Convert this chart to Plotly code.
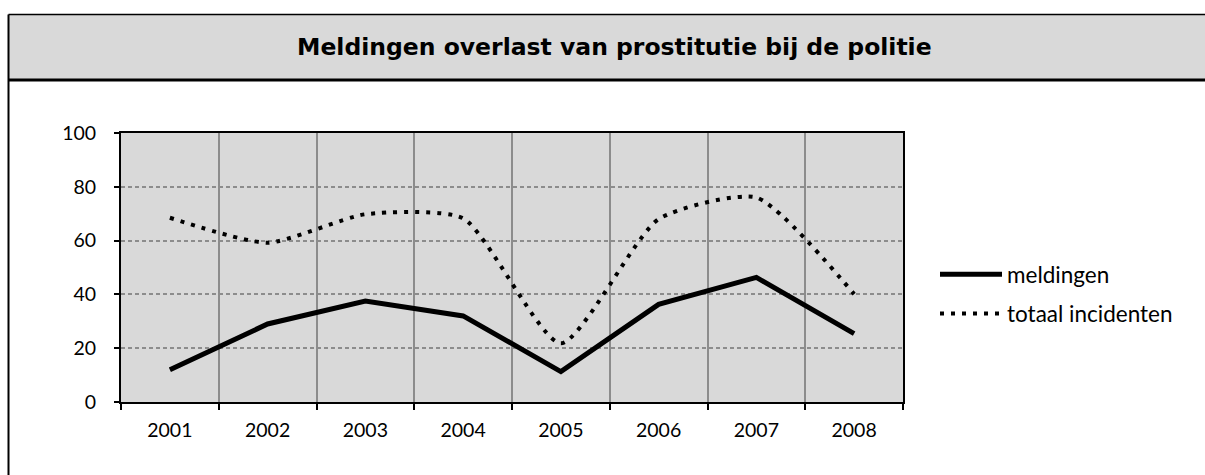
import plotly.graph_objects as go

years = ["2001", "2002", "2003", "2004", "2005", "2006", "2007", "2008"]
meldingen = [12, 29, 37.5, 32, 11.3, 36.3, 46.3, 25.4]
totaal_incidenten = [68.5, 59.2, 69.8, 68.3, 21.8, 68, 76, 40.1]
title_text = "Meldingen overlast van prostitutie bij de politie"

W, H = 1205, 475
L, R, T, B = 121, 903, 133, 402
pw, ph = R - L, B - T

def px(x):
    return (x - L) / pw

def py(y):
    return (B - y) / ph

fig = go.Figure()
fig.add_trace(go.Scatter(
    x=years, y=meldingen, name="meldingen", mode="lines",
    line=dict(color="black", width=5, shape="linear"),
    legendgroup="a",
))
fig.add_trace(go.Scatter(
    x=years, y=totaal_incidenten, name="totaal incidenten", mode="lines",
    line=dict(color="black", width=4, shape="spline", smoothing=0.6, dash="4px,7px"),
    legendgroup="b",
))

tickfont = dict(family="Lato", size=19.5, color="black")

fig.update_layout(
    width=W, height=H,
    margin=dict(l=L, r=W - R, t=T, b=H - B),
    paper_bgcolor="white",
    plot_bgcolor="#d9d9d9",
    showlegend=True,
    legend=dict(
        x=px(935), y=py(253), xanchor="left", yanchor="top",
        font=dict(family="Lato", size=22.5, color="black"),
        traceorder="grouped", tracegroupgap=7,
        itemwidth=62, bgcolor="rgba(0,0,0,0)",
    ),
    xaxis=dict(
        type="category", tickson="boundaries",
        showgrid=True, gridcolor="#8c8c8c", gridwidth=1.5,
        showline=True, linecolor="black", linewidth=2, mirror=True,
        ticks="outside", ticklen=6, tickcolor="black", tickwidth=1.5,
        tickfont=tickfont, ticklabelstandoff=10,
        range=[-0.5, 7.5], fixedrange=True,
    ),
    yaxis=dict(
        range=[0, 100], dtick=20,
        showgrid=True, gridcolor="#8c8c8c", gridwidth=1.5, griddash="4px,3px",
        zeroline=False,
        showline=True, linecolor="black", linewidth=2, mirror=True,
        ticks="outside", ticklen=5, tickcolor="black", tickwidth=1.5,
        tickfont=tickfont, ticklabelstandoff=14,
        fixedrange=True,
    ),
    shapes=[
        dict(type="rect", xref="paper", yref="paper",
             x0=px(8.5), x1=px(1210), y0=py(80), y1=py(14.5),
             fillcolor="#d9d9d9", line=dict(color="rgba(0,0,0,0)", width=0),
             layer="below"),
        dict(type="line", xref="paper", yref="paper",
             x0=px(8.5), x1=px(1210), y0=py(14.5), y1=py(14.5),
             line=dict(color="black", width=1.5)),
        dict(type="line", xref="paper", yref="paper",
             x0=px(8.5), x1=px(1210), y0=py(80), y1=py(80),
             line=dict(color="black", width=3)),
        dict(type="line", xref="paper", yref="paper",
             x0=px(8.5), x1=px(8.5), y0=py(14.5), y1=py(475),
             line=dict(color="black", width=2)),
    ],
    annotations=[
        dict(text="<b>" + title_text + "</b>", xref="paper", yref="paper",
             x=px(614), y=py(47), xanchor="center", yanchor="middle",
             showarrow=False,
             font=dict(family="DejaVu Sans", size=23.5, color="black")),
    ],
)

fig.write_html(
    "out.html",
    config={"displayModeBar": False},
    post_script=(
        "document.body.style.margin='0';"
        "document.body.style.overflow='hidden';"
        "document.documentElement.style.overflow='hidden';"
    ),
)
